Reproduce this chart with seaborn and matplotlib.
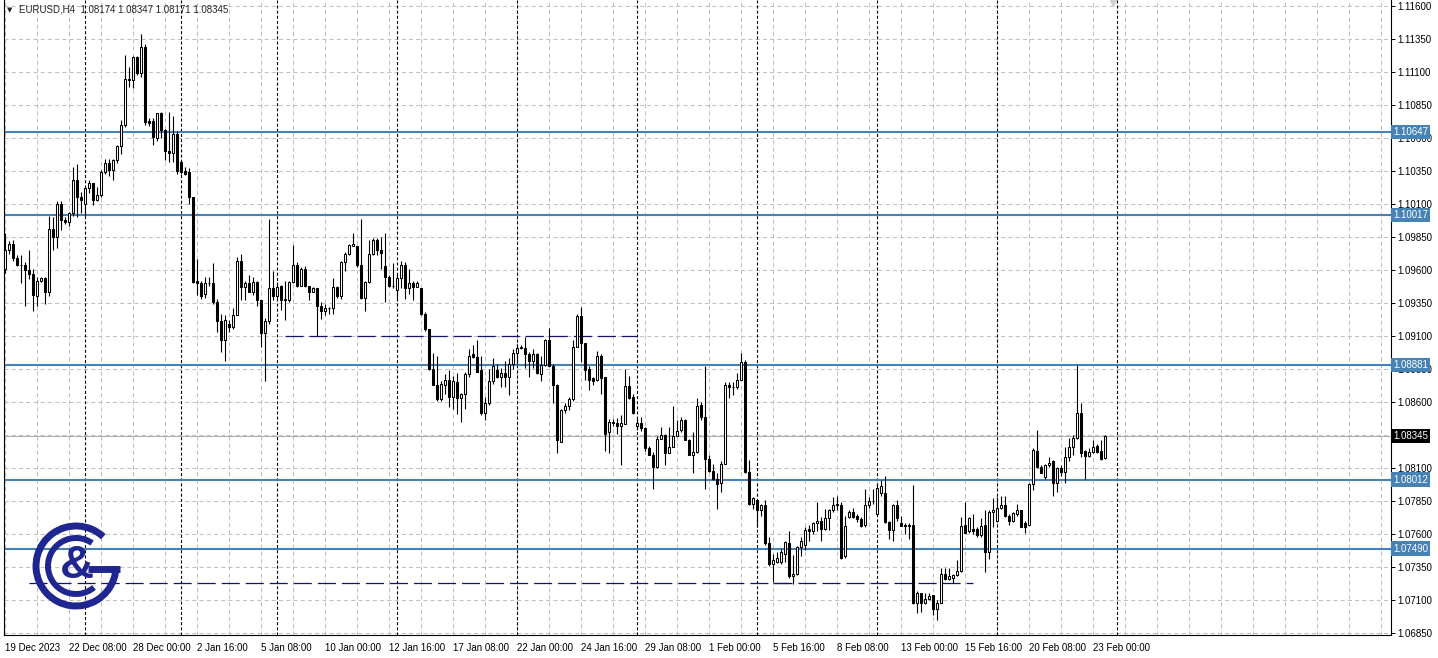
from __future__ import annotations

import numpy as np
import matplotlib
matplotlib.use("Agg")
import matplotlib.pyplot as plt
import seaborn as sns
from matplotlib.patches import Arc

# H4 candles, EURUSD, 19 Dec 2023 .. 23 Feb 2024
OPENS = [
    1.0961, 1.0975, 1.0980, 1.0969, 1.0964, 1.0964, 1.0960, 1.0957, 1.0940, 1.0952,
    1.0954, 1.0943, 1.0991, 1.0985, 1.1010, 1.0998, 1.0996, 1.1003, 1.1028, 1.1015,
    1.1010, 1.1022, 1.1026, 1.1013, 1.1017, 1.1034, 1.1041, 1.1036, 1.1043, 1.1054,
    1.1070, 1.1105, 1.1104, 1.1121, 1.1109, 1.1129, 1.1073, 1.1073, 1.1060, 1.1079,
    1.1066, 1.1050, 1.1049, 1.1063, 1.1042, 1.1035, 1.1034, 1.1015, 1.0952, 1.0950,
    1.0942, 1.0950, 1.0950, 1.0936, 1.0921, 1.0907, 1.0919, 1.0917, 1.0926, 1.0967,
    1.0947, 1.0950, 1.0943, 1.0951, 1.0937, 1.0912, 1.0921, 1.0946, 1.0940, 1.0948,
    1.0937, 1.0937, 1.0951, 1.0964, 1.0948, 1.0961, 1.0948, 1.0943, 1.0946, 1.0933,
    1.0929, 1.0931, 1.0931, 1.0947, 1.0940, 1.0966, 1.0972, 1.0978, 1.0978, 1.0964,
    1.0939, 1.0951, 1.0972, 1.0983, 1.0975, 1.0963, 1.0955, 1.0948, 1.0945, 1.0954,
    1.0964, 1.0946, 1.0950, 1.0947, 1.0946, 1.0927, 1.0915, 1.0885, 1.0873, 1.0862,
    1.0873, 1.0877, 1.0864, 1.0875, 1.0863, 1.0866, 1.0881, 1.0896, 1.0894, 1.0884,
    1.0852, 1.0859, 1.0876, 1.0884, 1.0879, 1.0882, 1.0879, 1.0889, 1.0897, 1.0901,
    1.0901, 1.0896, 1.0891, 1.0896, 1.0881, 1.0888, 1.0907, 1.0887, 1.0873, 1.0830,
    1.0854, 1.0857, 1.0862, 1.0902, 1.0925, 1.0905, 1.0885, 1.0878, 1.0877, 1.0895,
    1.0879, 1.0837, 1.0845, 1.0844, 1.0842, 1.0843, 1.0872, 1.0864, 1.0842, 1.0844,
    1.0840, 1.0825, 1.0820, 1.0811, 1.0832, 1.0835, 1.0821, 1.0826, 1.0834, 1.0839,
    1.0846, 1.0831, 1.0820, 1.0822, 1.0858, 1.0849, 1.0817, 1.0808, 1.0802, 1.0799,
    1.0813, 1.0873, 1.0871, 1.0871, 1.0877, 1.0890, 1.0807, 1.0783, 1.0786, 1.0778,
    1.0782, 1.0753, 1.0737, 1.0739, 1.0739, 1.0745, 1.0753, 1.0728, 1.0730, 1.0750,
    1.0752, 1.0764, 1.0762, 1.0768, 1.0770, 1.0764, 1.0772, 1.0778, 1.0782, 1.0782,
    1.0743, 1.0773, 1.0777, 1.0774, 1.0771, 1.0767, 1.0782, 1.0785, 1.0775, 1.0791,
    1.0791, 1.0769, 1.0763, 1.0782, 1.0768, 1.0767, 1.0767, 1.0767, 1.0708, 1.0715,
    1.0708, 1.0711, 1.0714, 1.0703, 1.0708, 1.0730, 1.0726, 1.0727, 1.0729, 1.0732,
    1.0767, 1.0762, 1.0764, 1.0764, 1.0759, 1.0767, 1.0746, 1.0777, 1.0770, 1.0780,
    1.0782, 1.0774, 1.0770, 1.0775, 1.0778, 1.0768, 1.0767, 1.0798, 1.0823, 1.0811,
    1.0803, 1.0812, 1.0815, 1.0799, 1.0810, 1.0807, 1.0818, 1.0826, 1.0833, 1.0852,
    1.0823, 1.0819, 1.0822, 1.0827, 1.0823, 1.08174,
]
HIGHS = [
    1.0988, 1.0982, 1.0983, 1.0971, 1.0971, 1.0966, 1.0975, 1.0961, 1.0955, 1.0955,
    1.0955, 1.1001, 1.1000, 1.1012, 1.1012, 1.1000, 1.1004, 1.1038, 1.1040, 1.1019,
    1.1023, 1.1028, 1.1026, 1.1023, 1.1036, 1.1044, 1.1044, 1.1044, 1.1055, 1.1074,
    1.1123, 1.1114, 1.1122, 1.1122, 1.1139, 1.1131, 1.1075, 1.1075, 1.1079, 1.1080,
    1.1067, 1.1080, 1.1077, 1.1065, 1.1043, 1.1038, 1.1037, 1.1015, 1.0968, 1.0952,
    1.0955, 1.0955, 1.0965, 1.0938, 1.0927, 1.0926, 1.0922, 1.0931, 1.0970, 1.0972,
    1.0952, 1.0956, 1.0955, 1.0952, 1.0937, 1.0924, 1.0999, 1.0959, 1.0951, 1.0949,
    1.0952, 1.0952, 1.0979, 1.0966, 1.0962, 1.0963, 1.0948, 1.0947, 1.0946, 1.0936,
    1.0934, 1.0932, 1.0954, 1.0948, 1.0967, 1.0974, 1.0980, 1.0988, 1.0978, 1.0999,
    1.0952, 1.0983, 1.0984, 1.0984, 1.0985, 1.0988, 1.0956, 1.0965, 1.0957, 1.0967,
    1.0966, 1.0961, 1.0952, 1.0952, 1.0946, 1.0928, 1.0915, 1.0897, 1.0895, 1.0876,
    1.0881, 1.0884, 1.0880, 1.0882, 1.0867, 1.0883, 1.0900, 1.0903, 1.0907, 1.0895,
    1.0864, 1.0885, 1.0893, 1.0889, 1.0886, 1.0891, 1.0893, 1.0900, 1.0904, 1.0903,
    1.0909, 1.0898, 1.0900, 1.0897, 1.0895, 1.0908, 1.0916, 1.0889, 1.0874, 1.0855,
    1.0859, 1.0864, 1.0907, 1.0927, 1.0932, 1.0905, 1.0887, 1.0879, 1.0899, 1.0896,
    1.0879, 1.0847, 1.0847, 1.0848, 1.0850, 1.0885, 1.0880, 1.0866, 1.0849, 1.0849,
    1.0841, 1.0827, 1.0822, 1.0834, 1.0841, 1.0836, 1.0841, 1.0857, 1.0846, 1.0849,
    1.0847, 1.0832, 1.0837, 1.0863, 1.0860, 1.0887, 1.0820, 1.0813, 1.0806, 1.0815,
    1.0875, 1.0875, 1.0875, 1.0882, 1.0897, 1.0892, 1.0816, 1.0788, 1.0786, 1.0783,
    1.0786, 1.0758, 1.0745, 1.0746, 1.0749, 1.0755, 1.0762, 1.0744, 1.0751, 1.0758,
    1.0765, 1.0767, 1.0769, 1.0784, 1.0773, 1.0779, 1.0779, 1.0788, 1.0789, 1.0784,
    1.0774, 1.0778, 1.0780, 1.0775, 1.0773, 1.0794, 1.0788, 1.0794, 1.0799, 1.0801,
    1.0804, 1.0770, 1.0783, 1.0786, 1.0774, 1.0768, 1.0768, 1.0797, 1.0717, 1.0715,
    1.0715, 1.0715, 1.0714, 1.0710, 1.0734, 1.0734, 1.0734, 1.0730, 1.0740, 1.0773,
    1.0784, 1.0773, 1.0775, 1.0765, 1.0772, 1.0778, 1.0778, 1.0787, 1.0788, 1.0789,
    1.0789, 1.0775, 1.0777, 1.0783, 1.0778, 1.0770, 1.0799, 1.0825, 1.0839, 1.0812,
    1.0813, 1.0818, 1.0816, 1.0811, 1.0812, 1.0826, 1.0833, 1.0835, 1.0888, 1.0859,
    1.0824, 1.0825, 1.0831, 1.0828, 1.0831, 1.08347,
]
LOWS = [
    1.0958, 1.0972, 1.0967, 1.0963, 1.0950, 1.0933, 1.0953, 1.0929, 1.0933, 1.0951,
    1.0934, 1.0940, 1.0975, 1.0977, 1.0990, 1.0995, 1.0993, 1.1001, 1.1000, 1.1003,
    1.1001, 1.1018, 1.1009, 1.1012, 1.1015, 1.1033, 1.1031, 1.1028, 1.1041, 1.1048,
    1.1068, 1.1099, 1.1098, 1.1108, 1.1106, 1.1070, 1.1069, 1.1055, 1.1058, 1.1060,
    1.1043, 1.1042, 1.1042, 1.1033, 1.1033, 1.1032, 1.1010, 1.0950, 1.0941, 1.0938,
    1.0939, 1.0948, 1.0934, 1.0913, 1.0898, 1.0891, 1.0913, 1.0915, 1.0926, 1.0937,
    1.0937, 1.0943, 1.0941, 1.0933, 1.0902, 1.0876, 1.0919, 1.0937, 1.0939, 1.0930,
    1.0922, 1.0936, 1.0950, 1.0947, 1.0948, 1.0947, 1.0937, 1.0943, 1.0910, 1.0923,
    1.0926, 1.0927, 1.0927, 1.0939, 1.0938, 1.0959, 1.0971, 1.0978, 1.0962, 1.0938,
    1.0929, 1.0950, 1.0971, 1.0971, 1.0961, 1.0936, 1.0947, 1.0946, 1.0938, 1.0946,
    1.0938, 1.0942, 1.0937, 1.0947, 1.0926, 1.0914, 1.0884, 1.0873, 1.0861, 1.0861,
    1.0866, 1.0856, 1.0855, 1.0851, 1.0845, 1.0855, 1.0879, 1.0893, 1.0883, 1.0850,
    1.0846, 1.0858, 1.0874, 1.0878, 1.0871, 1.0871, 1.0865, 1.0885, 1.0889, 1.0900,
    1.0886, 1.0879, 1.0886, 1.0881, 1.0876, 1.0887, 1.0887, 1.0859, 1.0821, 1.0830,
    1.0852, 1.0854, 1.0861, 1.0902, 1.0890, 1.0877, 1.0869, 1.0873, 1.0876, 1.0866,
    1.0823, 1.0821, 1.0842, 1.0836, 1.0812, 1.0843, 1.0862, 1.0851, 1.0839, 1.0838,
    1.0823, 1.0820, 1.0794, 1.0810, 1.0832, 1.0812, 1.0821, 1.0826, 1.0834, 1.0837,
    1.0831, 1.0820, 1.0806, 1.0821, 1.0846, 1.0794, 1.0807, 1.0801, 1.0779, 1.0792,
    1.0813, 1.0863, 1.0865, 1.0870, 1.0877, 1.0806, 1.0782, 1.0779, 1.0765, 1.0774,
    1.0752, 1.0736, 1.0724, 1.0738, 1.0737, 1.0739, 1.0727, 1.0722, 1.0729, 1.0743,
    1.0748, 1.0755, 1.0760, 1.0762, 1.0755, 1.0763, 1.0763, 1.0777, 1.0778, 1.0741,
    1.0742, 1.0772, 1.0772, 1.0769, 1.0765, 1.0765, 1.0780, 1.0783, 1.0775, 1.0789,
    1.0768, 1.0756, 1.0755, 1.0770, 1.0766, 1.0760, 1.0756, 1.0707, 1.0700, 1.0701,
    1.0707, 1.0710, 1.0699, 1.0695, 1.0708, 1.0725, 1.0725, 1.0723, 1.0728, 1.0731,
    1.0761, 1.0761, 1.0760, 1.0758, 1.0758, 1.0731, 1.0741, 1.0765, 1.0770, 1.0779,
    1.0773, 1.0767, 1.0769, 1.0774, 1.0765, 1.0761, 1.0767, 1.0793, 1.0810, 1.0806,
    1.0802, 1.0811, 1.0789, 1.0792, 1.0804, 1.0799, 1.0815, 1.0820, 1.0832, 1.0818,
    1.0802, 1.0818, 1.0821, 1.0821, 1.0816, 1.08171,
]
CLOSES = [
    1.0975, 1.0980, 1.0969, 1.0964, 1.0964, 1.0960, 1.0957, 1.0941, 1.0952, 1.0954,
    1.0943, 1.0991, 1.0985, 1.1010, 1.0998, 1.0996, 1.1003, 1.1028, 1.1015, 1.1013,
    1.1022, 1.1026, 1.1013, 1.1017, 1.1034, 1.1041, 1.1036, 1.1043, 1.1054, 1.1070,
    1.1105, 1.1104, 1.1121, 1.1109, 1.1129, 1.1072, 1.1071, 1.1061, 1.1079, 1.1066,
    1.1050, 1.1049, 1.1063, 1.1035, 1.1034, 1.1033, 1.1015, 1.0951, 1.0950, 1.0940,
    1.0950, 1.0950, 1.0936, 1.0921, 1.0907, 1.0922, 1.0917, 1.0926, 1.0967, 1.0947,
    1.0950, 1.0943, 1.0951, 1.0937, 1.0912, 1.0921, 1.0946, 1.0940, 1.0947, 1.0937,
    1.0938, 1.0951, 1.0964, 1.0948, 1.0961, 1.0948, 1.0943, 1.0946, 1.0933, 1.0929,
    1.0931, 1.0931, 1.0947, 1.0940, 1.0966, 1.0972, 1.0979, 1.0980, 1.0964, 1.0939,
    1.0951, 1.0972, 1.0983, 1.0975, 1.0973, 1.0955, 1.0948, 1.0948, 1.0954, 1.0964,
    1.0946, 1.0950, 1.0947, 1.0950, 1.0927, 1.0915, 1.0885, 1.0873, 1.0862, 1.0874,
    1.0877, 1.0864, 1.0876, 1.0863, 1.0866, 1.0881, 1.0895, 1.0894, 1.0883, 1.0852,
    1.0859, 1.0876, 1.0887, 1.0879, 1.0882, 1.0879, 1.0889, 1.0897, 1.0901, 1.0902,
    1.0896, 1.0891, 1.0896, 1.0882, 1.0888, 1.0907, 1.0887, 1.0873, 1.0831, 1.0854,
    1.0857, 1.0862, 1.0902, 1.0925, 1.0905, 1.0884, 1.0877, 1.0876, 1.0895, 1.0878,
    1.0836, 1.0845, 1.0844, 1.0842, 1.0844, 1.0872, 1.0863, 1.0852, 1.0844, 1.0840,
    1.0825, 1.0820, 1.0811, 1.0832, 1.0835, 1.0821, 1.0826, 1.0834, 1.0838, 1.0846,
    1.0831, 1.0820, 1.0822, 1.0857, 1.0849, 1.0817, 1.0808, 1.0802, 1.0798, 1.0813,
    1.0873, 1.0871, 1.0871, 1.0877, 1.0890, 1.0807, 1.0783, 1.0787, 1.0778, 1.0782,
    1.0753, 1.0737, 1.0740, 1.0742, 1.0746, 1.0754, 1.0728, 1.0730, 1.0750, 1.0755,
    1.0763, 1.0762, 1.0768, 1.0770, 1.0764, 1.0772, 1.0778, 1.0782, 1.0783, 1.0742,
    1.0766, 1.0777, 1.0773, 1.0771, 1.0766, 1.0782, 1.0785, 1.0785, 1.0795, 1.0796,
    1.0769, 1.0763, 1.0782, 1.0772, 1.0766, 1.0766, 1.0766, 1.0708, 1.0715, 1.0708,
    1.0711, 1.0713, 1.0703, 1.0708, 1.0730, 1.0726, 1.0728, 1.0729, 1.0732, 1.0766,
    1.0761, 1.0772, 1.0762, 1.0759, 1.0766, 1.0746, 1.0777, 1.0778, 1.0780, 1.0782,
    1.0774, 1.0770, 1.0776, 1.0778, 1.0765, 1.0765, 1.0798, 1.0824, 1.0811, 1.0806,
    1.0812, 1.0814, 1.0799, 1.0810, 1.0807, 1.0818, 1.0826, 1.0833, 1.0852, 1.0821,
    1.0819, 1.0822, 1.0826, 1.0822, 1.0817, 1.08345,
]

TIME_LABELS = [
    "19 Dec 2023", "22 Dec 08:00", "28 Dec 00:00", "2 Jan 16:00", "5 Jan 08:00",
    "10 Jan 00:00", "12 Jan 16:00", "17 Jan 08:00", "22 Jan 00:00", "24 Jan 16:00",
    "29 Jan 08:00", "1 Feb 00:00", "5 Feb 16:00", "8 Feb 08:00", "13 Feb 00:00",
    "15 Feb 16:00", "20 Feb 08:00", "23 Feb 00:00",
]
LABEL_STEP = 16          # bars between time labels
WEEK_STARTS = [20, 44, 68, 98, 128, 158, 188, 218, 248, 278]   # bar index of period separators

LEVELS = [1.10647, 1.10017, 1.08881, 1.08012, 1.07490]
BID = 1.08345
# dashed support/resistance: (price, first bar, last bar)
DASHED = [(1.0910, 70, 158), (1.0723, 6, 242)]
HEADER = "EURUSD,H4  1.08174 1.08347 1.08171 1.08345"

LEVEL_BLUE = "#4682b4"
NAVY = "#14146e"
LOGO_BLUE = "#1f2690"


def main() -> int:
    sns.set_style("white")
    plt.rcParams["font.family"] = ["Liberation Sans", "DejaVu Sans"]
    plt.rcParams["lines.scale_dashes"] = False

    W, H = 1438, 658
    fig = plt.figure(figsize=(W / 100, H / 100), dpi=100)
    fig.patch.set_facecolor("white")
    ax = fig.add_axes([4 / W, 23 / H, 1387 / W, 635 / H])

    n = len(CLOSES)
    x = np.arange(n)
    o = np.array(OPENS)
    c = np.array(CLOSES)
    hi = np.maximum(np.array(HIGHS), np.maximum(o, c))
    lo = np.minimum(np.array(LOWS), np.minimum(o, c))

    ax.set_xlim(-0.25, 346.5)
    ax.set_ylim(1.068348, 1.116455)

    price_ticks = np.round(np.arange(1.0685, 1.11601, 0.0025), 5)

    # grid
    for k in range(0, 347, 8):
        ax.axvline(k, color="#c0c0c0", lw=0.72, ls=(0, (3, 2.2)), zorder=0.5)
    for p in price_ticks:
        ax.axhline(p, color="#c0c0c0", lw=0.72, ls=(0, (3, 2.2)), zorder=0.5)
    for b in WEEK_STARTS:
        ax.axvline(b, color="black", lw=0.8, ls=(0, (2.2, 1.5)), zorder=1)

    ax.axhline(BID, color="#b0b0b0", lw=0.8, zorder=1.2)
    for lvl in LEVELS:
        ax.axhline(lvl, color=LEVEL_BLUE, lw=1.5, zorder=1.5)
    for price, b0, b1 in DASHED:
        ax.hlines(price, b0, b1, color=NAVY, lw=0.9, linestyles=[(0, (13, 4.3))], zorder=1.6)
    ax.hlines(1.0723, 192, 196, color=NAVY, lw=0.9, zorder=1.6)

    # candles
    ax.vlines(x, lo, hi, color="black", lw=0.8, zorder=3)
    up = c >= o
    ax.bar(x[up], (c - o)[up], bottom=o[up], width=0.5, color="white",
           edgecolor="black", linewidth=0.75, zorder=4)
    ax.bar(x[~up], (o - c)[~up], bottom=c[~up], width=0.5, color="black",
           edgecolor="black", linewidth=0.75, zorder=4)

    # shift marker
    ax.plot([277], [1.11625], marker="v", ms=4, color="#cfcfcf", clip_on=False, zorder=5)

    # axes
    for side in ("left", "bottom", "right"):
        ax.spines[side].set_color("black")
        ax.spines[side].set_linewidth(0.8)
    ax.spines["top"].set_visible(False)

    ax.yaxis.tick_right()
    ax.set_yticks(price_ticks)
    # the bid tag sits right on top of the 1.08350 tick label, as in the terminal
    ax.set_yticklabels(["" if abs(p - BID) < 0.0002 else f"{p:.5f}" for p in price_ticks])
    ax.tick_params(axis="y", direction="out", length=3, width=0.7, pad=1.5,
                   labelsize=7, colors="black")

    label_bars = [i * LABEL_STEP for i in range(len(TIME_LABELS))]
    ax.set_xticks(label_bars)
    ax.set_xticklabels(TIME_LABELS)
    for t in ax.get_xticklabels():
        t.set_horizontalalignment("left")
    ax.tick_params(axis="x", direction="out", length=3, width=0.7, pad=2.5,
                   labelsize=7, colors="black")
    ax.set_xlabel("")
    ax.set_ylabel("")

    # price level tags
    for lvl in LEVELS:
        ax.annotate(f"{lvl:.5f}", xy=(1, lvl), xycoords=("axes fraction", "data"),
                    xytext=(1.6, 0), textcoords="offset points", ha="left", va="center",
                    fontsize=7, color="white", annotation_clip=False, zorder=10,
                    bbox=dict(boxstyle="square,pad=0.22", fc=LEVEL_BLUE, ec="none"))
    ax.annotate(f"{BID:.5f}", xy=(1, BID), xycoords=("axes fraction", "data"),
                xytext=(1.6, 0), textcoords="offset points", ha="left", va="center",
                fontsize=7, color="white", annotation_clip=False, zorder=10,
                bbox=dict(boxstyle="square,pad=0.22", fc="black", ec="none"))

    # header
    fig.text(7 / W, 1 - 10 / H, "\u25bc", fontsize=5, va="center", ha="left",
             family=["DejaVu Sans"])
    fig.text(19 / W, 1 - 10 / H, HEADER, fontsize=7, va="center", ha="left")

    # logo
    lax = fig.add_axes([25 / W, 1 - 620 / H, 105 / W, 105 / H])
    lax.set_xlim(25, 130)
    lax.set_ylim(H - 620, H - 515)
    lax.set_aspect("equal")
    lax.set_axis_off()
    cx, cy = 76, H - 566
    lax.add_patch(Arc((cx, cy), 80, 80, theta1=47, theta2=360, lw=5.0, color=LOGO_BLUE))
    lax.plot([88, 119.5], [cy - 3, cy - 3], lw=5.0, color=LOGO_BLUE, solid_capstyle="butt")
    lax.add_patch(Arc((cx, cy), 56, 56, theta1=55, theta2=310, lw=4.3, color=LOGO_BLUE))
    lax.text(cx + 1, cy, "&", fontsize=34, fontweight="bold", color=LOGO_BLUE,
             ha="center", va="center", family=["Liberation Sans", "DejaVu Sans"])

    fig.savefig("out.png", dpi=100, facecolor="white")
    plt.close(fig)
    return 0


if __name__ == "__main__":
    raise SystemExit(main())
